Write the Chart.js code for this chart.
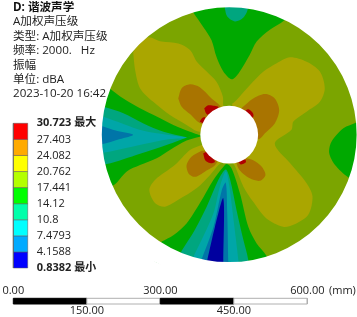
<!DOCTYPE html>
<html>
<head>
<meta charset="utf-8">
<script src="https://cdn.jsdelivr.net/npm/chart.js@4"></script>
<style>
  body { margin: 0; background: #fff; }
  #wrap { position: relative; width: 357px; height: 317px; overflow: hidden; }
  canvas { position: absolute; left: 0; top: 0; }
  #info { position: absolute; left: 13px; top: 0; font: 11.6px/14.4px "Open Sans", "Noto Sans CJK SC", sans-serif; color: #222; white-space: pre; }
  #info b { color: #111; }
  #unit { position: absolute; left: 329px; top: 282px; font: 11px/16px "Open Sans", sans-serif; color: #222; }
</style>
</head>
<body>
<div id="wrap">
  <canvas id="plot" width="357" height="317"></canvas>
  <div id="info"><b>D: 谐波声学</b>
A加权声压级
类型: A加权声压级
频率: 2000.   Hz
振幅
单位: dBA
2023-10-20 16:42</div>
  <div id="unit">(mm)</div>
</div>
<script>
// colour bar
const levels = [0.8382, 4.1588, 7.4793, 10.8, 14.12, 17.441, 20.762, 24.082, 27.403, 30.723];
const barColors = ['#0000ff', '#00aaff', '#00ffff', '#00ffaa', '#00ff00', '#b4ff00', '#ffff00', '#ffaa00', '#ff0000'];

// shaded contour colours on the disc
const limeC = '#7ba500', greenC = '#00a900', seaC = '#00a67f', cyanC = '#00a6a8',
  azureC = '#0075a8', blueC = '#00009f', yellowC = '#aaa600', orangeC = '#a97400', redC = '#b00000';

// scale bar (mm)
const barStops = [0, 150, 300, 450, 600];
const topTicks = [0, 300, 600];
const lowTicks = [150, 450];

// disc, mm from the centre
const discR = 260;
const holeR = 59;

// contours [x, y] in mm from the disc centre
const topGreen = [[-73,249],[-53,220],[-36,193],[-26,159],[-12,129],[5,113],[19,125],[42,163],[56,190],[83,214],[112,233],[125,250],[60,285],[0,290],[-60,285],[-85,270],[-73,249]];
const topSea = [[-9,258],[-4,241],[12,231],[29,239],[38,258],[30,280],[0,280],[-9,258]];
const rightGreen = [[260,25],[233,13],[209,-14],[204,-37],[216,-62],[243,-87],[275,-100],[295,0],[280,30],[260,25]];
const leftGreen = [[-242,93],[-216,74],[-182,54],[-148,37],[-114,20],[-80,6],[-53,-4],[-60,-4],[-87,-12],[-121,-31],[-148,-48],[-182,-62],[-209,-75],[-236,-103],[-270,-110],[-295,0],[-270,110],[-242,93]];
const leftSea = [[-253,56],[-216,44],[-175,23],[-134,6],[-87,-5],[-80,-3],[-128,-21],[-182,-39],[-250,-60],[-285,-60],[-290,0],[-285,56],[-253,56]];
const leftCyan = [[-258,37],[-216,22],[-175,8],[-128,0],[-87,-6],[-121,-9],[-196,-24],[-257,-37],[-285,-40],[-285,40],[-258,37]];
const leftAzure = [[-260,18],[-230,8],[-196,0],[-223,-9],[-258,-19],[-285,-20],[-285,20],[-260,18]];
const lowGreen = [[-138,-218],[-114,-205],[-87,-181],[-60,-140],[-32,-92],[-13,-67],[-5,-60],[5,-69],[22,-120],[39,-188],[56,-222],[76,-247],[85,-275],[-10,-290],[-150,-260],[-138,-218]];
const lowSea = [[-97,-237],[-70,-194],[-46,-147],[-22,-92],[-7,-71],[2,-92],[15,-154],[29,-215],[39,-256],[40,-285],[-105,-265],[-97,-237]];
const lowCyan = [[-73,-249],[-53,-208],[-32,-160],[-19,-106],[-7,-75],[0,-103],[8,-167],[19,-259],[20,-285],[-80,-275],[-73,-249]];
const lowAzure = [[-56,-254],[-32,-188],[-15,-113],[-7,-98],[-4,-160],[-2,-259],[-2,-285],[-60,-280],[-56,-254]];
const lowBlue = [[-45,-257],[-29,-188],[-12,-130],[-12,-260],[-12,-285],[-50,-285],[-45,-257]];
const yellowUL = [[-196,169],[-182,186],[-165,199],[-138,190],[-104,186],[-80,173],[-66,149],[-46,129],[-26,108],[-13,78],[-12,59],[2,16],[-60,6],[-87,20],[-121,40],[-155,67],[-182,95],[-192,132],[-196,169]];
const yellowR = [[6,63],[15,71],[42,101],[70,129],[97,146],[124,158],[158,149],[185,129],[195,95],[185,67],[158,47],[131,27],[127,10],[93,-18],[124,-58],[158,-99],[170,-126],[161,-164],[131,-184],[110,-188],[76,-171],[49,-137],[29,-106],[12,-65],[5,-52],[10,0],[6,63]];
const yellowLL = [[-56,-21],[-80,-31],[-111,-62],[-151,-92],[-163,-113],[-151,-140],[-131,-147],[-104,-133],[-66,-109],[-39,-82],[-22,-62],[-12,-52],[-10,-20],[-56,-21]];
const orangeUL = [[-104,74],[-97,95],[-80,103],[-60,97],[-36,74],[-17,56],[-20,30],[-56,22],[-80,42],[-97,57],[-104,74]];
const orangeUR = [[25,54],[49,74],[73,83],[93,74],[102,50],[93,23],[73,3],[59,-9],[20,20],[25,54]];
const orangeLL = [[-56,-33],[-77,-45],[-87,-62],[-83,-79],[-70,-86],[-49,-75],[-27,-60],[-20,-30],[-56,-33]];
const orangeLR = [[13,-58],[32,-48],[49,-52],[66,-65],[74,-82],[63,-94],[42,-89],[19,-69],[10,-30],[13,-58]];
const redUL = [[-51,54],[-43,60],[-30,59],[-22,56],[-25,30],[-46,42],[-51,54]];
const redUL2 = [[-60,27],[-56,33],[-50,36],[-45,20],[-60,27]];
const redUR = [[30,47],[39,52],[49,43],[48,35],[25,25],[30,47]];
const redLL = [[-53,-38],[-45,-35],[-29,-55],[-39,-58],[-49,-52],[-53,-38]];
const redLR = [[15,-56],[32,-50],[34,-56],[22,-60],[10,-30],[15,-56]];

const regions = [
  [leftGreen, greenC], [leftSea, seaC], [leftCyan, cyanC], [leftAzure, azureC],
  [lowGreen, greenC], [lowSea, seaC], [lowCyan, cyanC], [lowAzure, azureC], [lowBlue, blueC],
  [topGreen, greenC], [topSea, seaC], [rightGreen, greenC],
  [yellowUL, yellowC], [yellowR, yellowC], [yellowLL, yellowC],
  [orangeUL, orangeC], [orangeUR, orangeC], [orangeLL, orangeC], [orangeLR, orangeC],
  [redUL, redC], [redUL2, redC], [redUR, redC], [redLL, redC], [redLR, redC]
];

// page layout: mm per pixel from the scale bar, and where things sit on the page
const k = 600 / 294;
const W = 357, H = 317;
const cx = 229.2, cy = 134.7;
const barLeft = 13.3;
const barTopPx = 298.3, barBottomPx = 304;
const cbTop = 123.3, cbBottom = 268, cbWidth = 14.4;
const ringW = 20;
const font = '"Open Sans", "Noto Sans CJK SC", sans-serif';
const textC = '#222';

const yMm = py => (cy - py) * k;
const mmPx = chart => chart.scales.x.getPixelForValue(1) - chart.scales.x.getPixelForValue(0);
const cbPerPx = (levels[9] - levels[0]) / (cbBottom - cbTop);

function poly(pts, color, extra) {
  return Object.assign({
    data: pts.map(p => ({ x: p[0], y: p[1] })),
    showLine: true, fill: 'shape', backgroundColor: color, borderWidth: 0,
    pointRadius: 0, tension: 0.3
  }, extra);
}
function rect(x0, x1, y0, y1, color, yAxisID, border) {
  return poly([[x0, y0], [x1, y0], [x1, y1], [x0, y1], [x0, y0]], color, {
    xAxisID: 'xb', yAxisID, tension: 0, borderWidth: border ? 1 : 0, borderColor: border
  });
}
function dot(radius, extra) {
  return Object.assign({ data: [{ x: 0, y: 0 }], showLine: false, pointRadius: ctx => radius * mmPx(ctx.chart), pointHoverRadius: 0 }, extra);
}

const datasets = [
  dot(discR + 2, { pointBackgroundColor: limeC, pointBorderWidth: 0 }),
  ...regions.map(r => poly(r[0], r[1])),
  // white ring trims the contours to the disc, white dot is the hole
  dot(discR + ringW * k / 2, { pointBackgroundColor: 'rgba(0,0,0,0)', pointBorderColor: '#fff', pointBorderWidth: ringW }),
  dot(holeR, { pointBackgroundColor: '#fff', pointBorderWidth: 0 }),
  ...barColors.map((c, i) => rect(0, cbWidth * k, levels[i], levels[i + 1], c, 'yc', 'rgba(90,90,90,0.5)')),
  ...barStops.slice(0, -1).map((s, i) => rect(s, barStops[i + 1], yMm(barTopPx), yMm(barBottomPx), i % 2 ? '#fff' : '#000', 'y', i % 2 ? '#b0b0b0' : '#000'))
];
datasets.forEach((d, i) => { d.order = datasets.length - i; });

// these axes sit inside the page, they must not take room from the chart area
function noRoom(s) {
  if (s.isHorizontal()) s.height = 0; else s.width = 0;
  s.paddingLeft = s.paddingRight = s.paddingTop = s.paddingBottom = 0;
}

function barAxis(values, posY) {
  return {
    type: 'linear', position: { y: posY }, axis: 'x',
    min: -barLeft * k, max: (W - barLeft) * k,
    border: { display: false }, grid: { display: false, drawTicks: false },
    afterFit: noRoom,
    afterBuildTicks: s => { s.ticks = values.map(v => ({ value: v })); },
    ticks: {
      z: 1, autoSkip: false, maxRotation: 0, padding: 0, color: textC, font: { family: font, size: 11 },
      callback: v => v.toFixed(2)
    }
  };
}

new Chart(document.getElementById('plot'), {
  type: 'scatter',
  data: { datasets },
  options: {
    responsive: false,
    animation: false,
    layout: { padding: 0, autoPadding: false },
    plugins: { legend: { display: false }, tooltip: { enabled: false } },
    scales: {
      x: { display: false, min: -cx * k, max: (W - cx) * k },
      y: { display: false, min: yMm(H), max: yMm(0) },
      xb: { display: false, type: 'linear', axis: 'x', min: -barLeft * k, max: (W - barLeft) * k },
      xTop: barAxis(topTicks, yMm(284)),
      xLow: barAxis(lowTicks, yMm(304)),
      yc: {
        type: 'linear', position: 'left', axis: 'y',
        min: levels[0] - (H - cbBottom) * cbPerPx,
        max: levels[9] + cbTop * cbPerPx,
        border: { display: false }, grid: { display: false, drawTicks: false },
        afterFit: noRoom,
        afterBuildTicks: s => { s.ticks = levels.map(v => ({ value: v })); },
        ticks: {
          z: 1, autoSkip: false, mirror: true, padding: 36.7, color: textC,
          font: ctx => ({ family: font, size: 11, weight: ctx.index === 0 || ctx.index === 9 ? 'bold' : 'normal' }),
          callback: (v, i) => i === 9 ? v + ' 最大' : i === 0 ? v + ' 最小' : String(v)
        }
      }
    }
  }
});
</script>
</body>
</html>
